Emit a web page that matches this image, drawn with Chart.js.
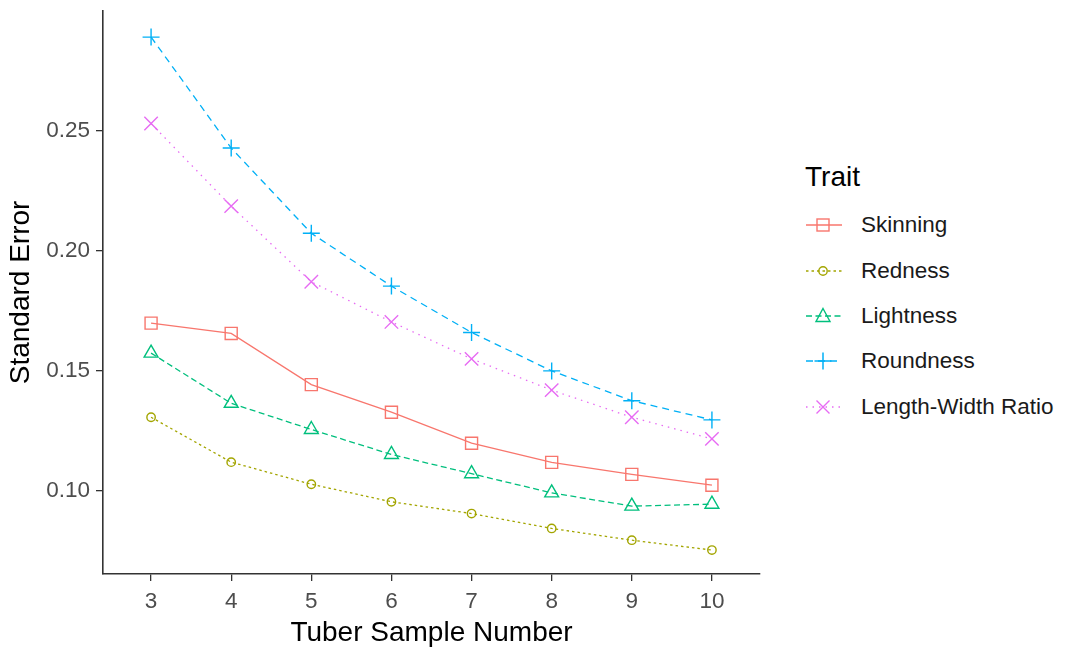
<!DOCTYPE html>
<html>
<head>
<meta charset="utf-8">
<script src="https://cdn.jsdelivr.net/npm/chart.js@4/dist/chart.umd.min.js"></script>
<style>
  html, body { margin: 0; padding: 0; background: #fff; }
  #wrap { position: relative; width: 1070px; height: 649px; font-family: 'Liberation Sans', Arial, sans-serif; }
  #box { position: absolute; left: 0; top: 0; width: 780px; height: 649px; }
  #legend { position: absolute; left: 805px; top: 0; width: 265px; height: 649px; }
  #legend .ttl { position: absolute; left: 0; top: 161px; font-size: 28px; color: #000; line-height: 32px; }
  #legend .item { position: absolute; left: 0; height: 32px; display: flex; align-items: center; }
  #legend .item span { font-size: 22.5px; color: #1a1a1a; margin-left: 18px; line-height: 32px; }
</style>
</head>
<body>
<div id="wrap">
  <div id="box"><canvas id="chart" width="780" height="649"></canvas></div>
  <div id="legend"></div>
</div>
<script>
'use strict';

// ── DATA ─────────────────────────────────────────────────────────────────────
const sampleNumbers = [3, 4, 5, 6, 7, 8, 9, 10];
const traitNames    = ['Skinning', 'Redness', 'Lightness', 'Roundness', 'Length-Width Ratio'];

const skinning  = [0.1699, 0.1656, 0.1443, 0.1328, 0.1199, 0.1119, 0.1069, 0.1024];
const redness   = [0.1307, 0.1120, 0.1028, 0.0955, 0.0906, 0.0844, 0.0795, 0.0754];
const lightness = [0.1574, 0.1365, 0.1256, 0.1152, 0.1072, 0.0992, 0.0937, 0.0945];
const roundness = [0.2890, 0.2428, 0.2073, 0.1853, 0.1660, 0.1500, 0.1376, 0.1296];
const lwRatio   = [0.2530, 0.2186, 0.1871, 0.1704, 0.1550, 0.1420, 0.1307, 0.1217];

const yTicks = [0.10, 0.15, 0.20, 0.25];

// ── STYLE ────────────────────────────────────────────────────────────────────
const traitColors = ['#F8766D', '#A3A500', '#00BF7D', '#00B0F6', '#E76BF3'];
const traitDash   = [[], [2.5, 3], [6, 3.5], [7, 5], [1.5, 5]];
const traitShape  = ['rect', 'circle', 'triangle', 'cross', 'crossRot'];
const traitRadius = [8.5, 4.2, 8, 8.5, 9.5];

const seriesValues = [skinning, redness, lightness, roundness, lwRatio];

const datasets = traitNames.map((name, i) => ({
  label: name,
  data: sampleNumbers.map((x, j) => ({ x, y: seriesValues[i][j] })),
  borderColor: traitColors[i],
  borderWidth: 1.3,
  borderDash: traitDash[i],
  tension: 0,
  pointStyle: traitShape[i],
  pointRadius: traitRadius[i],
  pointBorderWidth: 1.4,
  pointBackgroundColor: 'rgba(0,0,0,0)',
  pointBorderColor: traitColors[i],
}));

const axisColor = '#333333';
const tickFont  = { family: "'Liberation Sans', Arial, sans-serif", size: 22.5 };
const titleFont = { family: "'Liberation Sans', Arial, sans-serif", size: 28, lineHeight: 1.1 };

new Chart(document.getElementById('chart'), {
  type: 'line',
  data: { datasets },
  options: {
    responsive: false,
    animation: false,
    layout: { padding: { top: 9, right: 20, left: 0, bottom: 0 } },
    plugins: { legend: { display: false }, tooltip: { enabled: false } },
    scales: {
      x: {
        type: 'linear',
        min: 2.4,
        max: 10.6,
        afterBuildTicks: s => { s.ticks = sampleNumbers.map(v => ({ value: v })); },
        afterFit: s => { s.height = 75; s.paddingLeft = 0; s.paddingRight = 0; },
        ticks: { color: '#4D4D4D', font: tickFont, padding: 7, maxRotation: 0 },
        grid: { drawOnChartArea: false, color: axisColor, tickLength: 7, lineWidth: 1.3 },
        border: { display: true, color: axisColor, width: 1.6 },
        title: { display: true, text: 'Tuber Sample Number', color: '#000', font: titleFont, padding: { top: 0, bottom: 0 } },
      },
      y: {
        type: 'linear',
        min: 0.06543,
        max: 0.2999,
        afterBuildTicks: s => { s.ticks = yTicks.map(v => ({ value: v })); },
        afterFit: s => { s.width = 103; s.paddingTop = 0; s.paddingBottom = 0; },
        ticks: { color: '#4D4D4D', font: tickFont, padding: 6, callback: v => v.toFixed(2) },
        grid: { drawOnChartArea: false, color: axisColor, tickLength: 7, lineWidth: 1.3 },
        border: { display: true, color: axisColor, width: 1.6 },
        title: { display: true, text: 'Standard Error', color: '#000', font: titleFont, padding: { top: 6, bottom: 0 } },
      },
    },
  },
});

// ── LEGEND (line + marker keys) ──────────────────────────────────────────────
function markerSvg(shape, c) {
  switch (shape) {
    case 'rect':     return `<rect x="12" y="6" width="12" height="12" fill="none" stroke="${c}" stroke-width="1.4"/>`;
    case 'circle':   return `<circle cx="18" cy="12" r="4.2" fill="none" stroke="${c}" stroke-width="1.4"/>`;
    case 'triangle': return `<polygon points="18,4.5 25,17.5 11,17.5" fill="none" stroke="${c}" stroke-width="1.4"/>`;
    case 'cross':    return `<path d="M9.5 12H26.5M18 3.5V20.5" stroke="${c}" stroke-width="1.5"/>`;
    default:         return `<path d="M11.5 5.5L24.5 18.5M24.5 5.5L11.5 18.5" stroke="${c}" stroke-width="1.4"/>`;
  }
}

const legendEl = document.getElementById('legend');
const itemCenters = [225, 270.5, 316, 361, 406.5];
let html = '<div class="ttl">Trait</div>';
traitNames.forEach((name, i) => {
  const dash = traitDash[i].length ? `stroke-dasharray="${traitDash[i].join(' ')}"` : '';
  html += `<div class="item" style="top:${itemCenters[i] - 16}px"><svg width="38" height="24">` +
    `<line x1="1" y1="12" x2="37" y2="12" stroke="${traitColors[i]}" stroke-width="1.3" ${dash}/>` +
    markerSvg(traitShape[i], traitColors[i]) +
    `</svg><span>${name}</span></div>`;
});
legendEl.innerHTML = html;
</script>
</body>
</html>
